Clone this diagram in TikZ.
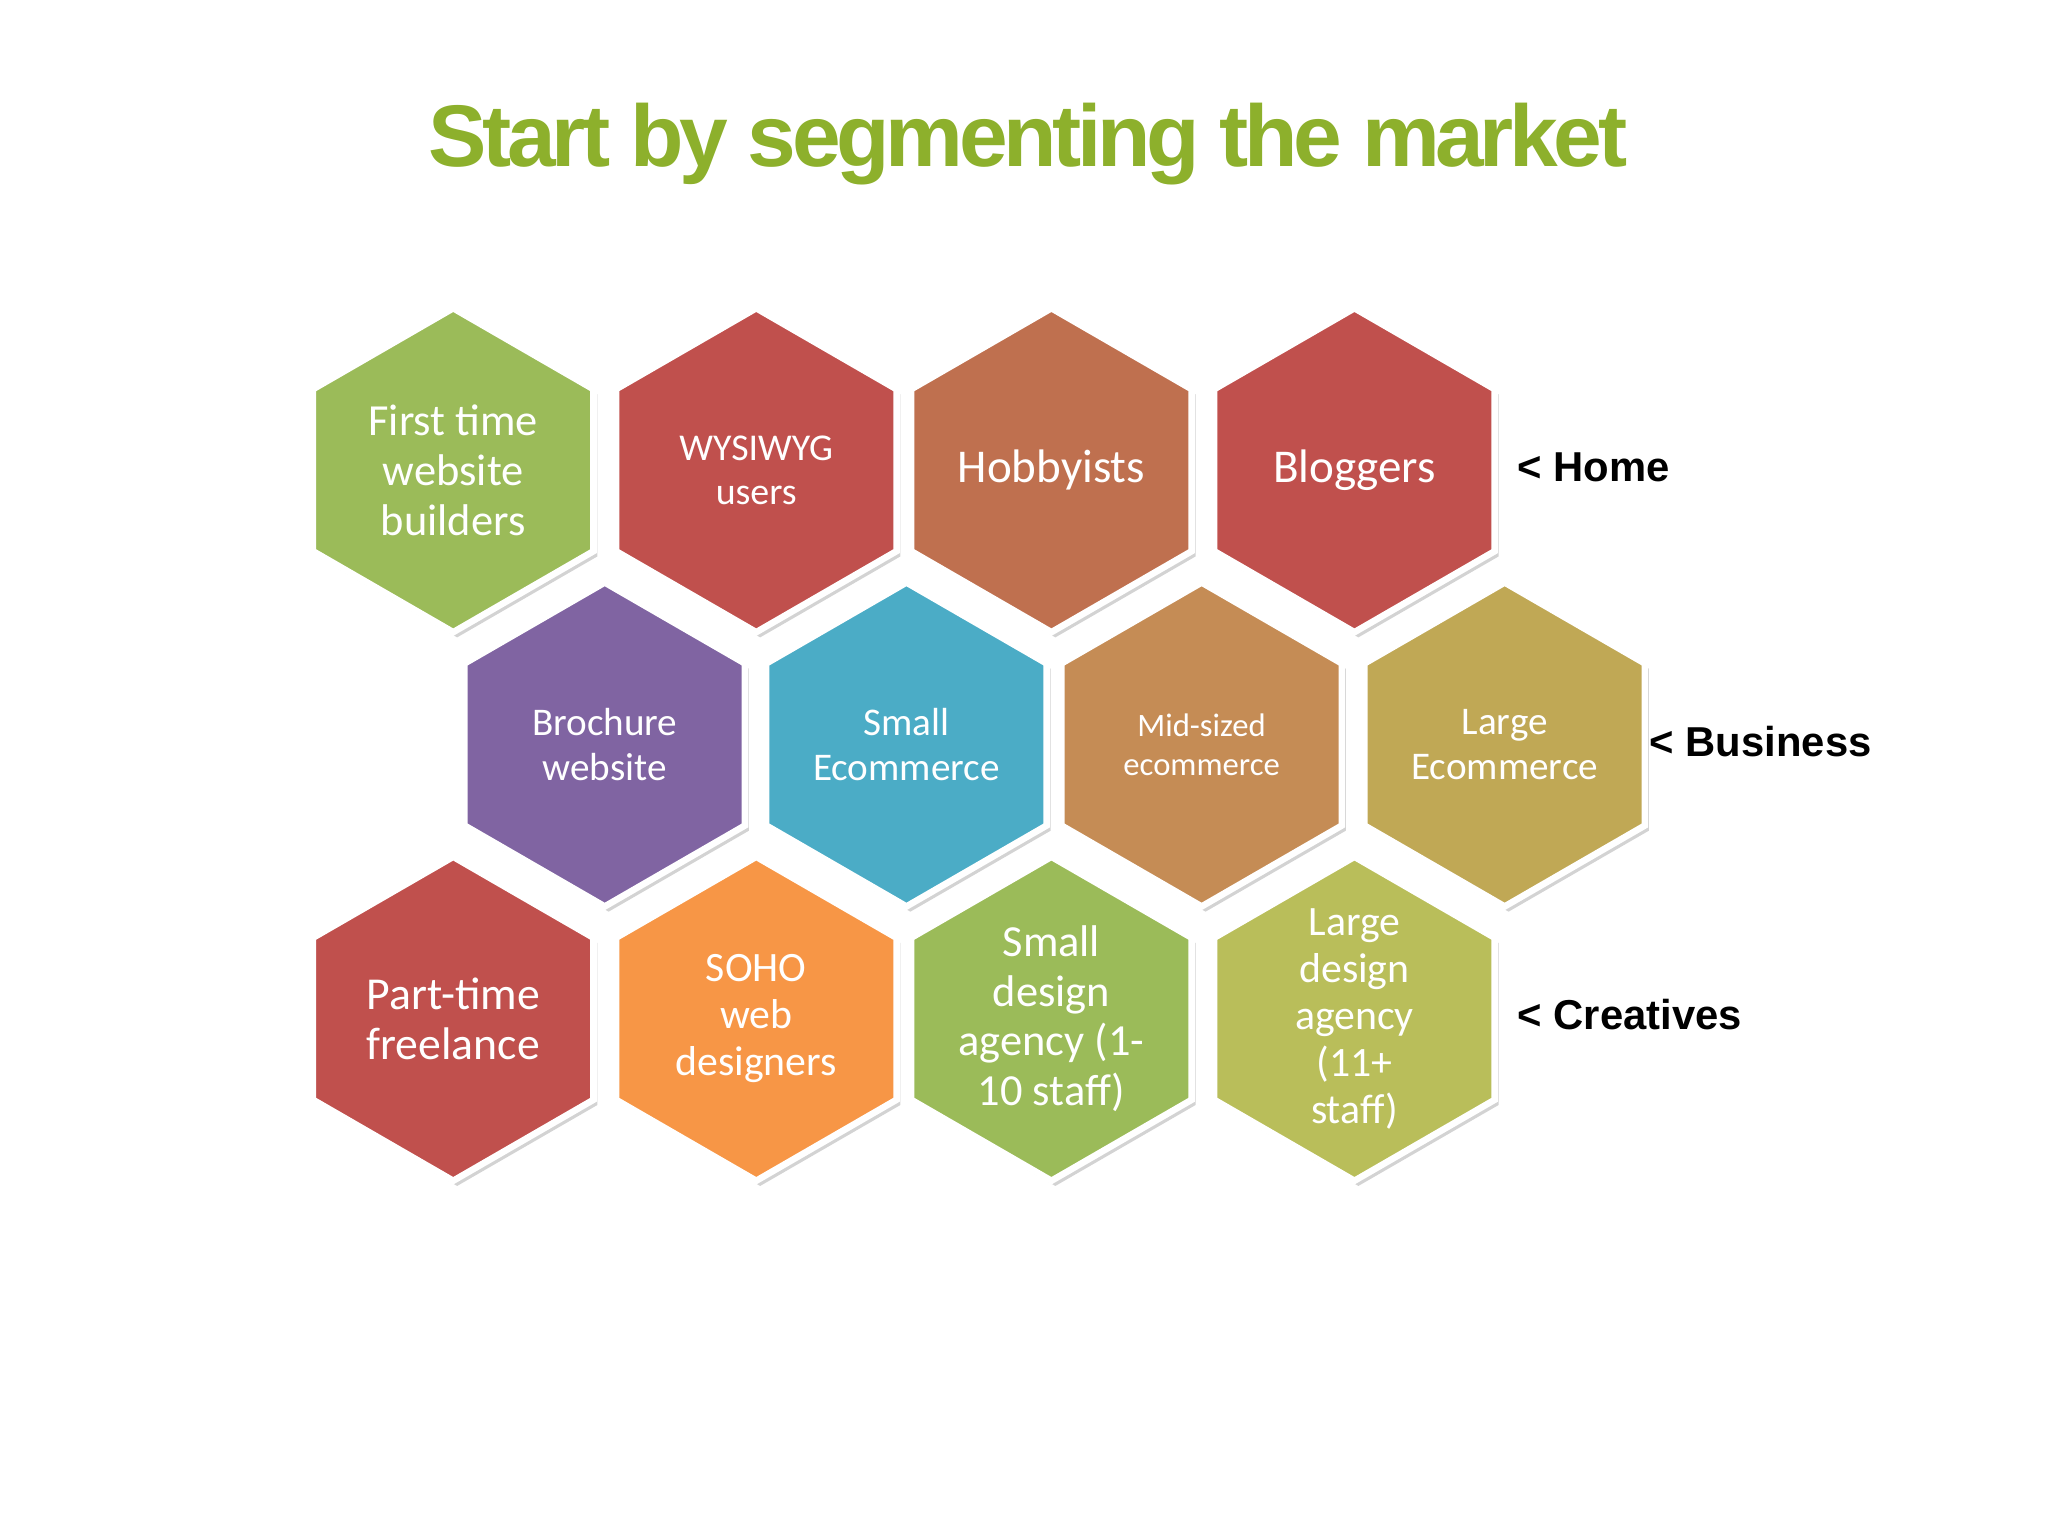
\documentclass[tikz,border=0pt]{standalone}
\usepackage{fontspec}
\setmainfont{Carlito}
\newfontfamily\arialf{Liberation Sans}
\usetikzlibrary{shapes.geometric,shadows}
\definecolor{cgreen}{HTML}{9BBB59}
\definecolor{cred}{HTML}{C0504D}
\definecolor{chobby}{HTML}{BF704F}
\definecolor{cpurple}{HTML}{8064A2}
\definecolor{cblue}{HTML}{4BACC6}
\definecolor{cmid}{HTML}{C58C55}
\definecolor{clarge}{HTML}{C0A855}
\definecolor{csoho}{HTML}{F79646}
\definecolor{cagency}{HTML}{B9BE5A}
\definecolor{ctitle}{HTML}{8DB02C}
\tikzset{
  hex/.style={regular polygon, regular polygon sides=6, shape border rotate=30,
    minimum size=124pt, inner sep=0pt, fill=#1, draw=white, line width=2.5pt,
    drop shadow={opacity=0.35, shadow xshift=1.5pt, shadow yshift=-2pt}},
  htext/.style={text=white, align=center, inner sep=0pt, font=\fontsize{17}{19}\selectfont},
  grp/.style={font=\arialf\bfseries\fontsize{16}{19}\selectfont, anchor=west}
}
\begin{document}
\begin{tikzpicture}[x=0.5pt,y=-0.5pt]
\useasboundingbox (0,0) rectangle (1568,1176);
\node[text=ctitle, font=\arialf\bfseries\fontsize{33.5}{40}\selectfont] (title) at (787,110) {\addfontfeature{LetterSpace=-5}Start by segmenting the market};
% hexagons
\node[hex=cgreen] (h1) at (347,360) {};
\node[hex=cred] (h2) at (579,360) {};
\node[hex=chobby] (h3) at (805,360) {};
\node[hex=cred] (h4) at (1037,360) {};
\node[hex=cpurple] (h5) at (463,570) {};
\node[hex=cblue] (h6) at (694,570) {};
\node[hex=cmid] (h7) at (920,570) {};
\node[hex=clarge] (h8) at (1152,570) {};
\node[hex=cred] (h9) at (347,780) {};
\node[hex=csoho] (h10) at (579,780) {};
\node[hex=cgreen] (h11) at (805,780) {};
\node[hex=cagency] (h12) at (1037,780) {};
% texts
\node[htext] (t1) at (h1) {First time\\website\\builders};
\node[htext, font=\fontsize{14.5}{17}\selectfont] (t2) at (h2) {WYSIWYG\\users};
\node[htext, font=\fontsize{18}{20}\selectfont] (t3) at (h3) {Hobbyists};
\node[htext, font=\fontsize{18}{20}\selectfont] (t4) at (h4) {Bloggers};
\node[htext, font=\fontsize{15}{17}\selectfont] (t5) at (h5) {Brochure\\website};
\node[htext, font=\fontsize{15}{17}\selectfont] (t6) at (h6) {Small\\Ecommerce};
\node[htext, font=\fontsize{12.5}{15}\selectfont] (t7) at (h7) {Mid-sized\\ecommerce};
\node[htext, font=\fontsize{15}{17}\selectfont] (t8) at (h8) {Large\\Ecommerce};
\node[htext, font=\fontsize{17.5}{19}\selectfont] (t9) at (h9) {Part-time\\freelance};
\node[htext, font=\fontsize{16}{18}\selectfont] (t10) at (h10) {SOHO\\web\\designers};
\node[htext] (t11) at (h11) {Small\\design\\agency (1-\\10 staff)};
\node[htext, font=\fontsize{16}{18}\selectfont] (t12) at (h12) {Large\\design\\agency\\(11+\\staff)};
% labels
\node[grp] (l1) at (1155,358) {< Home};
\node[grp] (l2) at (1256,568) {< Business};
\node[grp] (l3) at (1155,777) {< Creatives};
\end{tikzpicture}
\end{document}
